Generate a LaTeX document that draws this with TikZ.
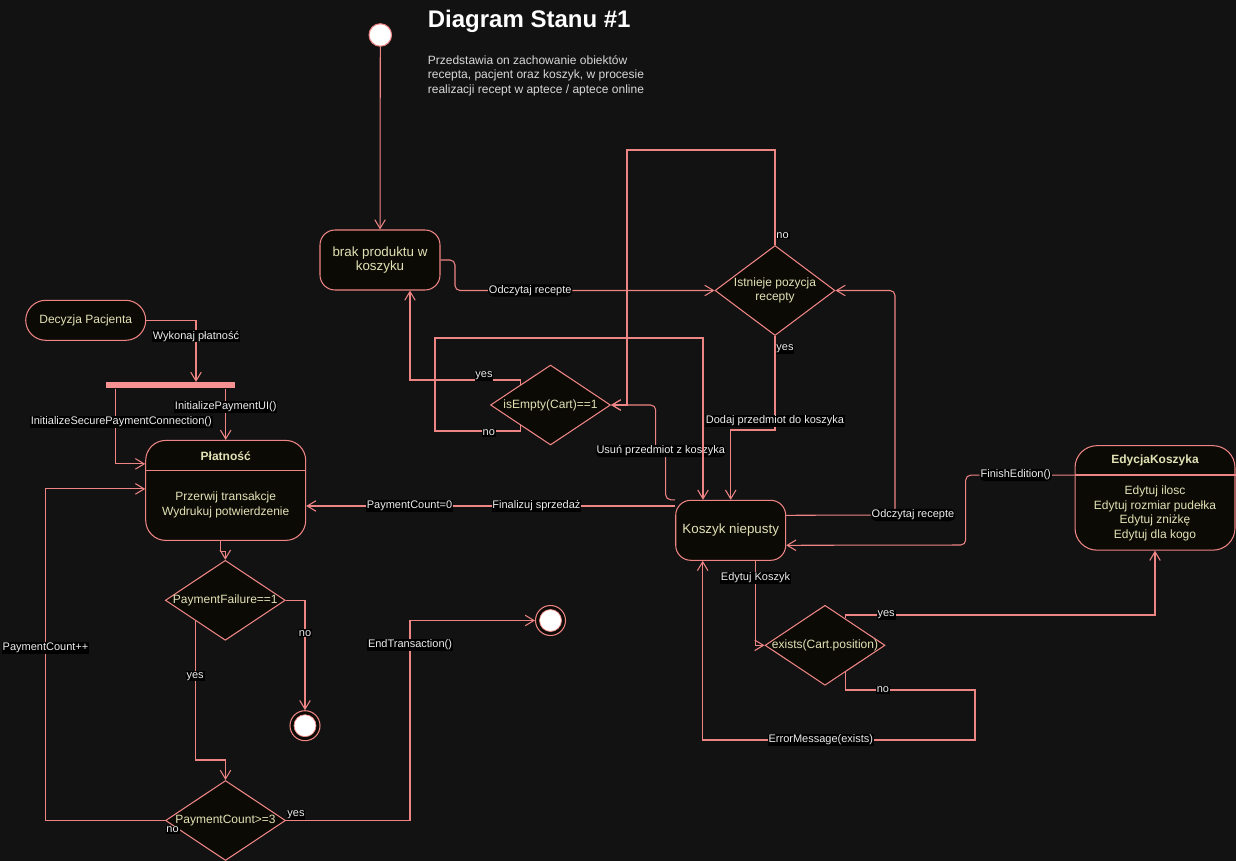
\documentclass[tikz,border=0pt]{standalone}
\usepackage{fontspec}
\setmainfont{Liberation Sans}
\usetikzlibrary{shapes.geometric,arrows.meta}
\definecolor{bg}{HTML}{121212}
\definecolor{edge}{HTML}{EE8585}
\definecolor{nodefill}{HTML}{0C0A04}
\definecolor{nodetext}{HTML}{E2E2B6}
\definecolor{barfill}{HTML}{F79292}
\definecolor{desc}{HTML}{D8D8D8}
\tikzset{arr/.style={
    draw=edge, line width=0.6pt,
    -{Straight Barb[length=5pt,width=6pt]}
  },
  lbl/.style={fill=black, text=white!93!black, inner sep=0.5pt,
    font=\fontsize{6.26}{7.5}\selectfont},
  state/.style={draw=edge, fill=nodefill, text=nodetext, line width=0.6pt,
    rounded corners=0.3cm, align=center, inner sep=0pt,
    font=\fontsize{6.83}{8.2}\selectfont},
  head/.style={text=nodetext, inner sep=0pt, font=\bfseries\fontsize{6.83}{8.2}\selectfont},
  body/.style={text=nodetext, inner sep=0pt, align=center},
  decision/.style={diamond, draw=edge, fill=nodefill, line width=0.6pt,
    inner sep=0pt, minimum width=2.4cm, minimum height=1.6cm,
    label={[text=nodetext, align=center, font=\fontsize{6.83}{8}\selectfont]center:#1}
  },
  initial/.style={circle, draw=edge, fill=white, line width=0.6pt,
    minimum size=0.45cm, inner sep=0pt},
  final/.style={circle, draw=edge, fill=nodefill, line width=0.6pt,
    minimum size=0.6cm, inner sep=0pt,
    path picture={\filldraw[fill=white, draw=edge, line width=0.4pt]
      (path picture bounding box.center) circle[radius=0.22cm];}
  }
}
\begin{document}
\begin{tikzpicture}[x=0.02cm, y=-0.02cm]
    \useasboundingbox (0,0) rectangle (1236,861);
    \fill[bg] (0,0) rectangle (1236,861);
    \node[anchor=base west, inner sep=0pt, text=white, font=\bfseries\fontsize{13.66}{16}\selectfont] (title) at (427.5,28) {Diagram Stanu \#1};
    \node[anchor=north west, align=left, inner sep=0pt, text=desc, font=\fontsize{6.83}{8.25}\selectfont] (about) at (427.5,55) {Przedstawia on zachowanie obiektów\\recepta, pacjent oraz koszyk, w procesie\\realizacji recept w aptece / aptece online};

    \node[initial] (start) at (380.3,35) {};
    \node[state, minimum width=2.4cm, minimum height=1.2cm, font=\fontsize{7.6}{8.3}\selectfont] (brak) at (380,260) {brak produktu w\\koszyku};
    \node[decision={Istnieje pozycja\\recepty}, minimum height=1.8cm] (ist) at (775,290.5) {};
    \node[decision={isEmpty(Cart)==1}] (isE) at (550.5,405) {};
    \node[state, minimum width=2.2cm, minimum height=1.2cm, font=\fontsize{7.6}{8.3}\selectfont] (kosz) at (730.7,530.3) {Koszyk niepusty};
    \node[state, minimum width=2.4cm, minimum height=0.8cm, rounded corners=0.4cm] (dec) at (85.7,320.3) {Decyzja Pacjenta};
    \node[fill=barfill, minimum width=2.6cm, minimum height=0.12cm, inner sep=0pt] (bar) at (170.5,385.3) {};
    \node[state, minimum width=3.2cm, minimum height=2cm, rounded corners=0.4cm] (plat) at (225.7,490.4) {};
    \draw[edge, line width=0.6pt] (plat.west |- 0,470.3) -- (plat.east |- 0,470.3);
    \node[head] (platH) at (225.7,455.7) {Płatność};
    \node[body, font=\fontsize{6.83}{8.5}\selectfont] (platB) at (225.7,505.2) {Przerwij transakcje\\Wydrukuj potwierdzenie};
    \node[decision={PaymentFailure==1}] (pfail) at (225.3,600.3) {};
    \node[decision={PaymentCount>=3}] (pcount) at (225.5,820.5) {};
    \node[final] (endB) at (305,725.7) {};
    \node[final] (endA) at (550.5,620.5) {};
    \node[decision={exists(Cart.position)}] (exi) at (825,645.3) {};
    \node[state, minimum width=3.2cm, minimum height=2.09cm, rounded corners=0.44cm] (edy) at (1155,497.9) {};
    \draw[edge, line width=0.6pt] (edy.west |- 0,475) -- (edy.east |- 0,475);
    \node[head] (edyH) at (1155,460.7) {EdycjaKoszyka};
    \node[body, font=\fontsize{6.83}{8.2}\selectfont] (edyB) at (1155,513.4) {Edytuj ilosc\\Edytuj rozmiar pudełka\\Edytuj zniżkę\\Edytuj dla kogo};

    \draw[arr] (start) -- (brak);
    \draw[arr, rounded corners=0.1cm] (brak.east) -- (455,260) -- (455,290.5) -- node[lbl, pos=0.29] {Odczytaj recepte} (ist.west);
    \draw[arr] (ist.north) -- node[lbl, pos=0.1, right] {no} (775,150) -| (627,405) -- (isE.east);
    \draw[arr] (ist.south) -- node[lbl, pos=0.14, right] {yes} node[lbl, pos=0.9] {Dodaj przedmiot do koszyka} (775,430) -| (kosz.north);
    \draw[arr] (isE.146) -- (isE.146 |- 0,380) -- node[lbl, pos=0.33, yshift=0.08cm] {yes} (410,380) -- (410,0 |- brak.south);
    \draw[arr, rounded corners=0.1cm] (kosz.north west) -| (665.7,451) -- node[lbl] {Usuń przedmiot z koszyka} (655.7,451) |- (isE.east);
    \draw[arr] (isE.214) -- (isE.214 |- 0,431) -- node[lbl, pos=0.37, yshift=-0.04cm] {no} (435,431) |- (703,338) -- (703,0 |- kosz.north);
    \draw[arr, rounded corners=0.1cm] (kosz.east) ++(0,-15) -- node[lbl, at end, xshift=0.36cm] {Odczytaj recepte} (895,515) |- (ist.east);
    \draw[arr] (kosz.west) ++(0,-24.3) -- node[lbl, pos=0.376] {Finalizuj sprzedaż} node[lbl, pos=0.72] {PaymentCount=0} (plat.east |- 0,506);
    \draw[arr] (dec.east) -| node[lbl, pos=0.63] {Wykonaj płatność} (196,0 |- bar.north);
    \draw[arr] (115.3,0 |- bar.south) |- node[lbl, pos=0.22, xshift=0.12cm] {InitializeSecurePaymentConnection()} ([yshift=-0.48cm]plat.north west);
    \draw[arr] (bar.south -| plat.north) -- node[lbl, pos=0.36] {InitializePaymentUI()} (plat.north);
    \draw[arr] ([xshift=-0.11cm]plat.south) -- ++(0,10.7) -| (pfail.north);
    \draw[arr] (pfail.east) -| node[lbl, pos=0.65] {no} (endB.north);
    \draw[arr] (pfail.214) -- node[lbl, pos=0.4] {yes} (pfail.214 |- 0,760) -| (pcount.north);
    \draw[arr] (pcount.west) -- node[lbl, pos=0, below right, yshift=-0.1cm] {no} (45.5,820.5) |- node[lbl, pos=0.26] {PaymentCount++} ([yshift=0.03cm]plat.west);
    \draw[arr] (pcount.east) -- node[lbl, pos=0, above right] {yes} (410,820.5) |- node[lbl, pos=0.44] {EndTransaction()} (endA.west);
    \draw[arr] (755.5,0 |- kosz.south) |- node[lbl, pos=0.1] {Edytuj Koszyk} (exi.west);
    \draw[arr] (exi.53) -- ++(0,-3.4) -| node[lbl, pos=0.066] {yes} (edy.south);
    \draw[arr] (exi.307) |- node[lbl, pos=0.645] {no} (975,690) |- node[lbl, pos=0.783] {ErrorMessage(exists)} (702.7,740) -- (702.7,0 |- kosz.south);
    \draw[arr, rounded corners=0.1cm] ([yshift=-0.6cm]edy.north west) -| node[lbl, pos=0.27] {FinishEdition()} (965.7,545) -- ([yshift=-0.3cm]kosz.east);
\end{tikzpicture}
\end{document}
